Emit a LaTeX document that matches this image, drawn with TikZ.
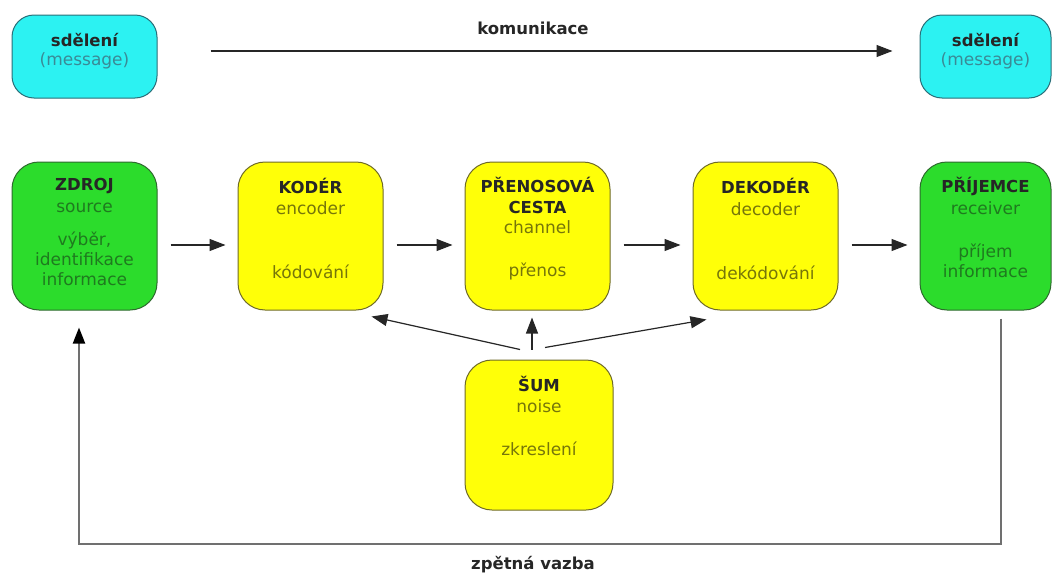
\documentclass[tikz,border=0pt]{standalone}
\usepackage{fontspec}
\setmainfont{DejaVu Sans}
\usetikzlibrary{arrows.meta,calc}
\definecolor{cyanfill}{HTML}{2CF2F2}
\definecolor{cyandraw}{HTML}{2A6E78}
\definecolor{cyantext}{HTML}{3A8A96}
\definecolor{greenfill}{HTML}{2CDC2C}
\definecolor{greendraw}{HTML}{2E6A2E}
\definecolor{greentext}{HTML}{1F7A1F}
\definecolor{yellowfill}{HTML}{FFFF08}
\definecolor{yellowdraw}{HTML}{6E6A28}
\definecolor{yellowtext}{HTML}{76760A}
\definecolor{fbgray}{HTML}{707070}
\tikzset{
  boxbase/.style={rounded corners=27pt, line width=1pt, inner sep=0pt, minimum width=145pt, minimum height=148pt},
  msgbox/.style={boxbase, fill=cyanfill, draw=cyandraw, minimum width=145pt, minimum height=83pt, rounded corners=22pt},
  greenbox/.style={boxbase, fill=greenfill, draw=greendraw},
  yellowbox/.style={boxbase, fill=yellowfill, draw=yellowdraw},
  ttl/.style={font=\bfseries\fontsize{16.5}{19}\selectfont, text=black!85, inner sep=0pt, align=center},
  txt/.style={font=\fontsize{17}{20}\selectfont, inner sep=0pt, align=center},
  conn/.style={line width=1.2pt, black!85, -{Triangle[length=16pt,width=12pt]}},
  fb/.style={line width=2pt, fbgray, -{Triangle[length=16pt,width=12pt,color=black,fill=black]}}
}
\begin{document}
\begin{tikzpicture}[x=1pt,y=-1pt]
\useasboundingbox (0,0) rectangle (1053,573);
% message boxes
\node[msgbox] (msg1) at (84.5,56.5) {};
\node[msgbox, minimum width=131pt] (msg2) at (985.5,56.5) {};
\node[ttl] (msg1-t) at (84.5,40) {sdělení};
\node[txt, text=cyantext] (msg1-s) at (84.5,61) {(message)};
\node[ttl] (msg2-t) at (985.5,40) {sdělení};
\node[txt, text=cyantext] (msg2-s) at (985.5,61) {(message)};
\draw[conn] ([yshift=5.5pt]msg1.east) -- ([yshift=5.5pt]msg2.west)
  [shorten <=53pt, shorten >=27pt];
\node[ttl] (kom) at (533,28) {komunikace};
% main row
\node[greenbox] (zdroj) at (84.5,236) {};
\node[yellowbox] (koder) at (310.5,236) {};
\node[yellowbox] (kanal) at (537.5,236) {};
\node[yellowbox] (dekoder) at (765.5,236) {};
\node[greenbox, minimum width=131pt] (prijemce) at (985.5,236) {};
\node[yellowbox, minimum width=148pt, minimum height=150pt] (sum) at (539,435) {};
% texts
\node[ttl] (zdroj-t) at (84.5,186) {ZDROJ};
\node[txt, text=greentext] (zdroj-s) at (84.5,208) {source};
\node[txt, text=greentext] (zdroj-d) at (84.5,259) {výběr,\\identifikace\\informace};
\node[ttl] (koder-t) at (310.5,186) {KODÉR};
\node[txt, text=yellowtext] (koder-s) at (310.5,208) {encoder};
\node[txt, text=yellowtext] (koder-d) at (310.5,272) {kódování};
\node[ttl, font=\bfseries\fontsize{16.5}{21}\selectfont] (kanal-t) at (537.5,195) {PŘENOSOVÁ\\CESTA};
\node[txt, text=yellowtext] (kanal-s) at (537.5,227) {channel};
\node[txt, text=yellowtext] (kanal-d) at (537.5,271) {přenos};
\node[ttl] (dekoder-t) at (765.5,186) {DEKODÉR};
\node[txt, text=yellowtext] (dekoder-s) at (765.5,209) {decoder};
\node[txt, text=yellowtext] (dekoder-d) at (765.5,273) {dekódování};
\node[ttl] (prijemce-t) at (985.5,186) {PŘÍJEMCE};
\node[txt, text=greentext] (prijemce-s) at (985.5,208) {receiver};
\node[txt, text=greentext] (prijemce-d) at (985.5,261) {příjem\\informace};
\node[ttl] (sum-t) at (539,384) {ŠUM};
\node[txt, text=yellowtext] (sum-s) at (539,406) {noise};
\node[txt, text=yellowtext] (sum-d) at (539,449) {zkreslení};
% horizontal connectors
\draw[conn] ([yshift=-9pt]zdroj.east) -- ([yshift=-9pt]koder.west) [shorten <=13pt, shorten >=12pt];
\draw[conn] ([yshift=-9pt]koder.east) -- ([yshift=-9pt]kanal.west) [shorten <=13pt, shorten >=12pt];
\draw[conn] ([yshift=-9pt]kanal.east) -- ([yshift=-9pt]dekoder.west) [shorten <=13pt, shorten >=12pt];
\draw[conn] ([yshift=-9pt]dekoder.east) -- ([yshift=-9pt]prijemce.west) [shorten <=13pt, shorten >=12pt];
% noise connectors
\coordinate (nl) at ($(koder.south east)+(-12,6)$);
\draw[conn] ([xshift=-19pt,yshift=10pt]sum.north) -- (nl);
\draw[conn] ([xshift=-7pt,yshift=10pt]sum.north) -- ([xshift=-5.5pt,yshift=-7pt]kanal.south);
\coordinate (nr) at ($(dekoder.south west)+(14,9)$);
\draw[conn] ([xshift=6pt,yshift=12pt]sum.north) -- (nr);
% feedback
\coordinate (fbR) at (1001,544);
\coordinate (fbL) at (79,544);
\draw[fb] ([xshift=15.5pt,yshift=-8pt]prijemce.south) -- (fbR) -- (fbL) -- ([xshift=-5.5pt,yshift=-17pt]zdroj.south);
\node[ttl] (zv) at (533,565) {zpětná vazba};
\end{tikzpicture}
\end{document}
